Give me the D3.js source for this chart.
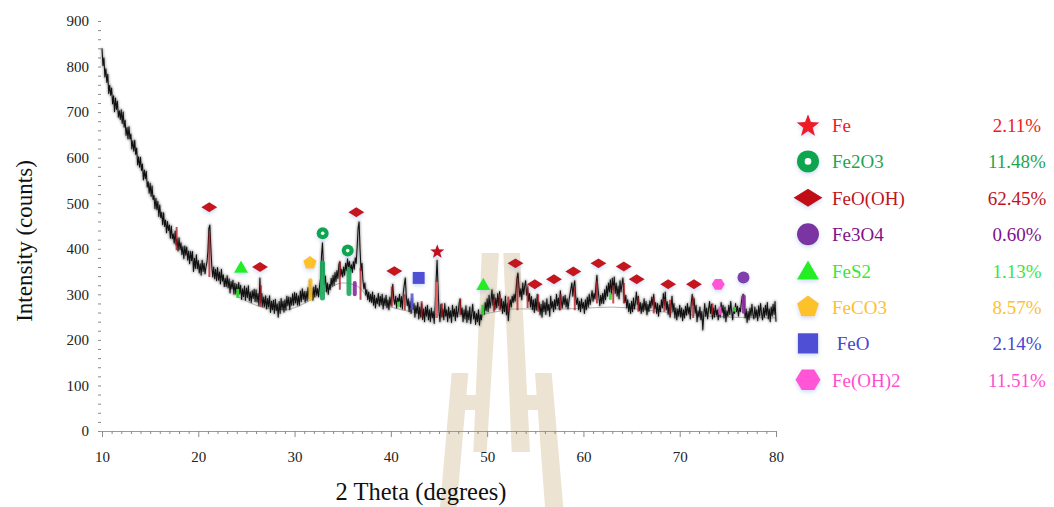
<!DOCTYPE html>
<html>
<head>
<meta charset="utf-8">
<script src="https://cdn.jsdelivr.net/npm/d3@7"></script>
<style>
  html, body { margin: 0; padding: 0; background: #fff; }
  svg { display: block; font-family: "Liberation Serif", "Times New Roman", serif; }
</style>
</head>
<body>
<svg id="chart" width="1054" height="507"></svg>
<script>
// ---- XRD scan: counts recorded every 0.1 deg from 10 to 80 deg 2-theta ----
const scanStart = 10;
const scanStep = 0.1;
const intensity = [
  840, 802, 819, 777, 795, 765, 783, 741, 759, 737,
  753, 718, 736, 701, 731, 706, 724, 689, 703, 684,
  705, 675, 700, 667, 682, 649, 666, 641, 668, 641,
  652, 619, 637, 614, 638, 607, 621, 584, 602, 579,
  601, 572, 586, 551, 573, 554, 570, 535, 547, 522,
  544, 515, 538, 508, 517, 488, 511, 486, 504, 471,
  496, 468, 480, 453, 479, 449, 463, 435, 460, 440,
  452, 423, 450, 422, 433, 412, 439, 408, 422, 395,
  424, 398, 413, 387, 405, 378, 406, 386, 404, 375,
  395, 367, 394, 374, 394, 350, 379, 357, 387, 356,
  374, 347, 367, 342, 375, 350, 368, 345, 360, 370,
  395, 445, 452, 405, 362, 338, 360, 334, 355, 330,
  359, 331, 349, 323, 355, 329, 343, 317, 335, 317,
  341, 314, 334, 303, 328, 312, 331, 300, 324, 301,
  322, 297, 326, 301, 320, 289, 312, 295, 318, 287,
  314, 293, 319, 286, 305, 282, 308, 291, 311, 284,
  310, 283, 302, 275, 336, 281, 302, 273, 294, 273,
  297, 268, 291, 272, 297, 260, 285, 266, 287, 258,
  289, 264, 279, 250, 284, 258, 291, 266, 285, 261,
  288, 265, 296, 275, 294, 266, 293, 276, 301, 276,
  304, 281, 302, 276, 297, 276, 307, 284, 312, 289,
  306, 283, 306, 286, 315, 290, 330, 294, 314, 287,
  316, 295, 320, 298, 313, 294, 320, 335, 385, 413,
  360, 322, 340, 305, 325, 300, 322, 310, 335, 318,
  342, 320, 348, 328, 352, 335, 365, 372, 340, 355,
  338, 360, 342, 368, 352, 378, 360, 372, 350, 365,
  348, 372, 355, 380, 368, 405, 445, 459, 400, 352,
  368, 330, 312, 325, 298, 310, 288, 305, 284, 300,
  282, 305, 276, 298, 270, 292, 280, 302, 274, 296,
  278, 300, 268, 292, 276, 298, 270, 288, 266, 294,
  276, 300, 322, 290, 278, 296, 270, 292, 282, 300,
  272, 295, 268, 305, 322, 336, 298, 275, 290, 262,
  285, 258, 290, 266, 280, 250, 275, 258, 282, 246,
  272, 250, 280, 245, 268, 240, 272, 252, 276, 244,
  266, 240, 270, 248, 262, 236, 275, 330, 375, 318,
  262, 240, 278, 250, 268, 244, 280, 252, 266, 240,
  272, 248, 264, 238, 276, 252, 268, 242, 274, 250,
  262, 282, 290, 255, 270, 240, 266, 246, 275, 238,
  264, 244, 272, 236, 258, 278, 246, 262, 234, 258,
  240, 266, 232, 255, 244, 262, 275, 256, 282, 264,
  290, 262, 298, 270, 285, 310, 276, 300, 266, 292,
  270, 302, 275, 306, 268, 290, 258, 284, 262, 296,
  255, 280, 242, 270, 288, 272, 296, 282, 300, 285,
  310, 335, 347, 318, 295, 312, 288, 325, 300, 318,
  330, 298, 315, 285, 302, 272, 295, 266, 288, 260,
  290, 265, 300, 270, 282, 255, 278, 250, 286, 262,
  282, 256, 290, 264, 278, 252, 296, 270, 284, 262,
  288, 268, 300, 275, 292, 266, 308, 285, 270, 295,
  278, 298, 272, 290, 268, 286, 300, 312, 325, 296,
  318, 330, 295, 278, 292, 266, 285, 262, 290, 270,
  282, 258, 288, 266, 294, 272, 300, 278, 292, 308,
  285, 302, 290, 320, 342, 315, 295, 275, 298, 280,
  302, 280, 310, 288, 318, 296, 325, 305, 332, 300,
  335, 310, 338, 302, 325, 296, 318, 290, 330, 305,
  322, 336, 300, 282, 298, 270, 288, 262, 280, 258,
  285, 262, 292, 268, 282, 305, 278, 296, 264, 282,
  258, 280, 262, 290, 266, 284, 255, 278, 262, 286,
  270, 294, 276, 300, 268, 282, 258, 280, 252, 276,
  262, 288, 270, 302, 276, 305, 266, 284, 256, 278,
  250, 272, 296, 262, 280, 248, 270, 244, 268, 252,
  276, 250, 270, 242, 266, 248, 274, 254, 280, 258,
  272, 246, 282, 300, 276, 290, 258, 276, 240, 264,
  250, 272, 244, 262, 222, 256, 280, 252, 270, 246,
  268, 284, 258, 278, 246, 270, 250, 276, 254, 266,
  244, 268, 250, 282, 260, 276, 248, 272, 240, 264,
  252, 276, 256, 284, 262, 244, 270, 258, 280, 262,
  274, 252, 270, 262, 282, 296, 300, 276, 248, 268,
  238, 262, 244, 270, 252, 278, 256, 246, 272, 250,
  266, 242, 275, 252, 280, 258, 244, 270, 250, 276,
  254, 282, 246, 268, 240, 272, 252, 278, 256, 284,
  240
];

// fitted background under the pattern: [2theta, counts]
const backgroundFit = [
  [24, 296], [27, 270], [29, 266], [31, 280], [33, 305], [35, 325], [36.5, 318],
  [38, 285], [40, 272], [44, 256], [48, 252], [51, 262], [53, 268], [58, 268],
  [63, 272], [68, 262], [73, 252], [80, 248]
];

// axis ticks
const xTickValues = [10, 20, 30, 40, 50, 60, 70, 80];
const yTickValues = [0, 100, 200, 300, 400, 500, 600, 700, 800, 900];

// phases (legend order)
const phaseNames    = ["Fe", "Fe2O3", "FeO(OH)", "Fe3O4", "FeS2", "FeCO3", " FeO", "Fe(OH)2"];
const phasePercents = ["2.11%", "11.48%", "62.45%", "0.60%", "1.13%", "8.57%", "2.14%", "11.51%"];
const phaseSymbols  = ["star", "ring", "diamond", "circle", "triangle", "pentagon", "square", "hexagon"];
const legendColors  = ["#ee1c25", "#0ca650", "#c00d12", "#7a35a3", "#22ee22", "#fdc22c", "#4f4fd6", "#ff55d6"];
const markerColors  = ["#c4101a", "#0ca650", "#c4141a", "#7f3fae", "#22ee22", "#fdc22c", "#4f4fd6", "#ff55d6"];
const textColors    = ["#ec1c24", "#1ea453", "#c0141c", "#80108a", "#38e838", "#fdc030", "#4747cf", "#ff4fd0"];
const stickColors   = ["#ea5a60", "#1aa85a", "#b3141c", "#8a2a9c", "#2be32b", "#fcc22b", "#5b5be6", "#ff55d6"];

// identified peaks, marker placed at [2theta, counts]
const feMarks     = [[44.82, 395]];
const fe2o3Marks  = [[32.92, 434], [35.52, 396]];
const feoohMarks  = [[21.14, 491], [26.41, 360], [36.41, 480], [40.36, 351], [52.94, 368], [54.95, 322],
                     [56.94, 333], [58.95, 350], [61.56, 368], [64.19, 361], [65.53, 333], [68.8, 322], [71.48, 322]];
const fe3o4Marks  = [[76.62, 337]];
const fes2Marks   = [[24.44, 360], [49.6, 322]];
const feco3Marks  = [[31.6, 369]];
const feoMarks    = [[42.89, 336]];
const feoh2Marks  = [[74.0, 322]];

// reference lines: [2theta, low counts, high counts]
const feSticks    = [[44.75, 248, 327]];
const fe2o3Sticks = [[32.9, 292, 369], [35.65, 302, 353]];
const feoohSticks = [[17.75, 397, 448], [21.15, 338, 435], [26.5, 273, 320], [34.7, 310, 371], [36.85, 288, 358],
                     [40.1, 273, 317], [41.45, 265, 300], [43.2, 250, 285], [45.3, 250, 280], [47.2, 255, 290],
                     [50.7, 262, 290], [51.3, 265, 300], [52.2, 262, 295], [53.15, 265, 335], [54.2, 270, 320],
                     [55.3, 262, 300], [57.6, 265, 300], [59.1, 265, 315], [61.4, 280, 330], [63.1, 280, 320],
                     [64.2, 280, 325], [65.7, 262, 292], [67.3, 258, 292], [68.4, 262, 290], [69.0, 255, 288],
                     [71.4, 248, 295], [73.4, 255, 280]];
const fe3o4Sticks = [[36.25, 300, 325], [76.65, 262, 295]];
const fes2Sticks  = [[24.1, 292, 312], [40.8, 273, 284], [49.55, 255, 277], [62.8, 288, 302], [75.7, 262, 272]];
const feco3Sticks = [[31.65, 290, 331]];
const feoSticks   = [[42.2, 266, 302]];
const feoh2Sticks = [[74.18, 255, 273]];

const phaseMarks  = [feMarks, fe2o3Marks, feoohMarks, fe3o4Marks, fes2Marks, feco3Marks, feoMarks, feoh2Marks];
const phaseSticks = [feSticks, fe2o3Sticks, feoohSticks, fe3o4Sticks, fes2Sticks, feco3Sticks, feoSticks, feoh2Sticks];

// ---- drawing ----
const svg = d3.select("#chart");
const x = d3.scaleLinear().domain([10, 80]).range([102, 776]);
const y = d3.scaleLinear().domain([0, 900]).range([431, 21]);

const defs = svg.append("defs");
const glow = defs.append("filter").attr("id", "glow")
  .attr("x", "-50%").attr("y", "-50%").attr("width", "200%").attr("height", "200%");
glow.append("feDropShadow").attr("dx", 0).attr("dy", 2).attr("stdDeviation", 2)
  .attr("flood-color", "#8fb0e8").attr("flood-opacity", 0.45);
defs.append("filter").attr("id", "soft")
  .append("feGaussianBlur").attr("stdDeviation", 0.9);

// institutional watermark behind the plot
const wm = svg.append("g").attr("fill", "#ece3d3");
wm.append("path").attr("d",
  "M481.7,253 L499,253 L486.7,452 L473.3,452 L475.1,410 L465.1,410 L456.7,507 L440,507 " +
  "L451.7,373 L468.3,373 L466.4,395 L475.7,395 Z");
wm.append("path").attr("d",
  "M503.3,253 L520,253 L527.1,395 L536.6,395 L535,373 L551.7,373 L563.3,507 L545,507 " +
  "L537.8,410 L527.9,410 L530,452 L511.7,452 Z");

// y axis: dotted ticks every 20 counts, labels every 100
const yAxis = d3.axisLeft(y)
  .tickValues(d3.range(0, 901, 20))
  .tickSize(3).tickPadding(9)
  .tickFormat(d => yTickValues.includes(d) ? d : "");
const gy = svg.append("g").attr("transform", "translate(101,0)").call(yAxis);
gy.select(".domain").remove();
gy.selectAll(".tick line").attr("stroke", "#8a8a8a");
gy.selectAll(".tick text").attr("font-size", 15).attr("fill", "#222")
  .attr("font-family", "Liberation Serif, serif");

// x axis: ticks every degree, labels every 10
const xAxis = d3.axisBottom(x)
  .tickValues(d3.range(10, 81, 1))
  .tickSize(3).tickSizeOuter(0).tickPadding(17)
  .tickFormat(d => xTickValues.includes(d) ? d : "");
const gx = svg.append("g").attr("transform", "translate(0,431)").call(xAxis);
gx.select(".domain").attr("stroke", "#9a9a9a").attr("d", "M100,0.5H776");
gx.selectAll(".tick line").attr("stroke", "#8a8a8a")
  .attr("y2", d => xTickValues.includes(d) ? 6 : 3);
gx.selectAll(".tick text").attr("font-size", 15).attr("fill", "#222")
  .attr("font-family", "Liberation Serif, serif");

// axis titles
svg.append("text")
  .attr("transform", "translate(32,241) rotate(-90)")
  .attr("text-anchor", "middle").attr("font-size", 23).attr("fill", "#111")
  .text("Intensity (counts)");
svg.append("text")
  .attr("x", 421).attr("y", 500)
  .attr("text-anchor", "middle").attr("font-size", 24.5).attr("fill", "#111")
  .text("2 Theta (degrees)");

// background fit
svg.append("path")
  .datum(backgroundFit)
  .attr("fill", "none").attr("stroke", "#b0b0b0").attr("stroke-width", 1)
  .attr("d", d3.line().x(d => x(d[0])).y(d => y(d[1])).curve(d3.curveMonotoneX));

// measured pattern: soft grey halo under a crisp dark trace
const scan = intensity.map((v, i) => [scanStart + i * scanStep, v]);
const scanLine = d3.line().x(d => x(d[0])).y(d => y(d[1]));
svg.append("path")
  .datum(scan)
  .attr("fill", "none").attr("stroke", "#444").attr("stroke-width", 2.6)
  .attr("stroke-linejoin", "round").attr("opacity", 0.45)
  .attr("filter", "url(#soft)")
  .attr("d", scanLine);
svg.append("path")
  .datum(scan)
  .attr("fill", "none").attr("stroke", "#111").attr("stroke-width", 1.05)
  .attr("stroke-linejoin", "round")
  .attr("d", scanLine);

// reference lines of each phase
const stickWidth = [3, 5, 2, 4, 3, 4, 3, 3];
phaseSticks.forEach((list, p) => {
  svg.append("g").selectAll("line").data(list).join("line")
    .attr("x1", d => x(d[0])).attr("x2", d => x(d[0]))
    .attr("y1", d => y(d[1])).attr("y2", d => y(d[2]))
    .attr("stroke", stickColors[p])
    .attr("stroke-width", stickWidth[p])
    .attr("stroke-linecap", stickWidth[p] >= 4 ? "round" : "butt")
    .attr("opacity", p === 2 ? 0.75 : 0.9);
});

// symbol shapes, s = nominal width in px
function polygon(pts) { return "M" + pts.map(p => p[0].toFixed(2) + "," + p[1].toFixed(2)).join("L") + "Z"; }
function regular(n, r, rot) {
  return d3.range(n).map(i => {
    const a = rot + i * 2 * Math.PI / n;
    return [r * Math.cos(a), r * Math.sin(a)];
  });
}
function symbolPath(type, s) {
  const r = s / 2;
  switch (type) {
    case "star": {
      const pts = d3.range(10).map(i => {
        const rr = i % 2 === 0 ? r : r * 0.42;
        const a = -Math.PI / 2 + i * Math.PI / 5;
        return [rr * Math.cos(a), rr * Math.sin(a) + r * 0.1];
      });
      return polygon(pts);
    }
    case "diamond": return polygon([[-r, 0], [0, -r * 0.62], [r, 0], [0, r * 0.62]]);
    case "triangle": return polygon([[0, -r * 0.92], [r, r * 0.82], [-r, r * 0.82]]);
    case "pentagon": return polygon(regular(5, r, -Math.PI / 2));
    case "square": return polygon([[-r * 0.92, -r * 0.92], [r * 0.92, -r * 0.92], [r * 0.92, r * 0.92], [-r * 0.92, r * 0.92]]);
    case "hexagon": return polygon(regular(6, r, 0).map(p => [p[0], p[1] * 0.95]));
    default: return d3.arc()({innerRadius: 0, outerRadius: r, startAngle: 0, endAngle: 2 * Math.PI});
  }
}
function drawSymbol(g, type, s, color) {
  g.append("path").attr("d", symbolPath(type, s)).attr("fill", color);
  if (type === "ring") g.append("circle").attr("r", s * 0.15).attr("fill", "#fff");
}

const plotSize = [15, 12, 16, 12, 14, 14, 13, 13];
phaseMarks.forEach((list, p) => {
  list.forEach(d => {
    const g = svg.append("g")
      .attr("transform", `translate(${x(d[0])},${y(d[1])})`)
      .attr("filter", "url(#glow)");
    drawSymbol(g, phaseSymbols[p], plotSize[p], markerColors[p]);
  });
});

// legend with phase fractions
const legendSize = [24, 22, 29, 22, 22, 23, 22, 25];
const legend = svg.append("g");
phaseNames.forEach((name, i) => {
  const base = 132 + i * 36.4;
  const g = legend.append("g")
    .attr("transform", `translate(808,${base - 7})`)
    .attr("filter", "url(#glow)");
  drawSymbol(g, phaseSymbols[i], legendSize[i], legendColors[i]);
  legend.append("text")
    .attr("x", 832).attr("y", base)
    .attr("font-size", 19).attr("fill", textColors[i])
    .style("white-space", "pre")
    .text(name);
  legend.append("text")
    .attr("x", 1017).attr("y", base)
    .attr("text-anchor", "middle")
    .attr("font-size", 19).attr("fill", textColors[i])
    .text(phasePercents[i]);
});
</script>
</body>
</html>
